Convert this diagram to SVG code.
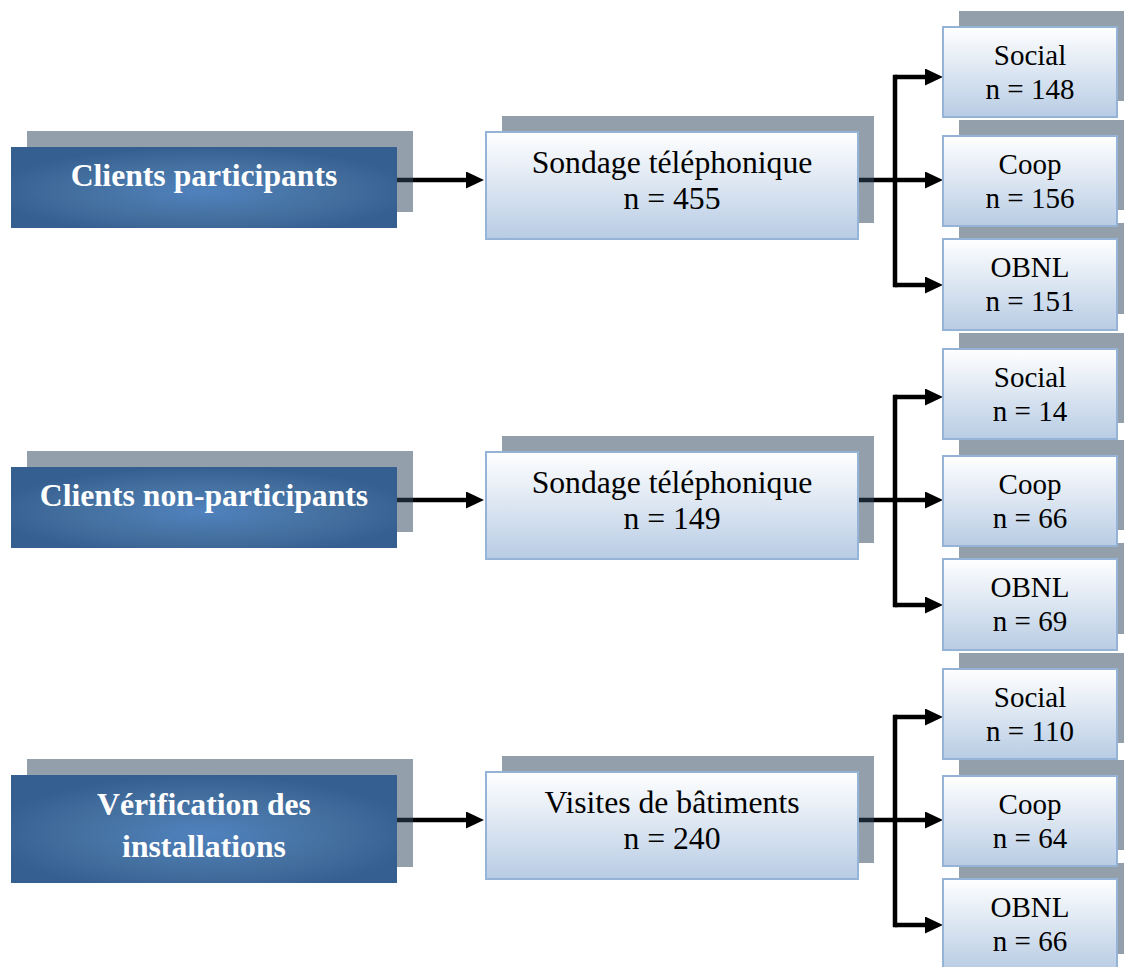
<svg xmlns="http://www.w3.org/2000/svg" width="1124" height="967" viewBox="0 0 1124 967">
<style>
.shadow{fill:#32465f;fill-opacity:0.52}
.dark{fill:url(#gDark)}
.light{fill:url(#gLight);stroke:#95b3d7;stroke-width:2}
.tl{font-family:"Liberation Serif","Times New Roman",serif;font-weight:bold;font-size:31.7px;fill:#ffffff;text-anchor:middle}
.tm{font-family:"Liberation Serif","Times New Roman",serif;font-size:31.7px;fill:#000000;text-anchor:middle}
.tr{font-family:"Liberation Serif","Times New Roman",serif;font-size:29px;fill:#000000;text-anchor:middle}
.ln{fill:none;stroke:#000000;stroke-width:4.5}
.arr{fill:none;stroke:#000000;stroke-width:4.5;marker-end:url(#ah)}
</style>
<defs>
<radialGradient id="gDark" cx="0.5" cy="0.55" r="0.55">
<stop offset="0" stop-color="#5082be"/>
<stop offset="0.6" stop-color="#44709f"/>
<stop offset="1" stop-color="#365f91"/>
</radialGradient>
<linearGradient id="gLight" x1="0" y1="0" x2="0" y2="1">
<stop offset="0" stop-color="#ffffff"/>
<stop offset="1" stop-color="#b8cce4"/>
</linearGradient>
<marker id="ah" markerUnits="userSpaceOnUse" viewBox="0 0 18 17" refX="0" refY="8.5" markerWidth="18" markerHeight="17" orient="auto">
<path d="M0,0 L18,8.5 L0,17 z" fill="#000000"/>
</marker>
</defs>
<rect width="1124" height="967" fill="#ffffff"/>
<g id="connectors">
<path class="arr" d="M397 180 H466"/>
<path class="ln" d="M858 180 H895"/>
<path class="ln" stroke-linecap="square" d="M895 77 V285"/>
<path class="arr" d="M895 77 H925"/>
<path class="arr" d="M895 180 H925"/>
<path class="arr" d="M895 285 H925"/>
<path class="arr" d="M397 500 H466"/>
<path class="ln" d="M858 500 H895"/>
<path class="ln" stroke-linecap="square" d="M895 397 V605"/>
<path class="arr" d="M895 397 H925"/>
<path class="arr" d="M895 500 H925"/>
<path class="arr" d="M895 605 H925"/>
<path class="arr" d="M397 820 H466"/>
<path class="ln" d="M858 820 H895"/>
<path class="ln" stroke-linecap="square" d="M895 717 V925"/>
<path class="arr" d="M895 717 H925"/>
<path class="arr" d="M895 820 H925"/>
<path class="arr" d="M895 925 H925"/>
</g>
<g id="n-clients-participants">
<rect class="shadow" x="27" y="131" width="386" height="81"/>
<rect class="dark" x="11" y="147" width="386" height="81"/>
<text class="tl" x="204" y="186">Clients participants</text>
</g>
<g id="n-sondage-1">
<rect class="shadow" x="502" y="116" width="372" height="107"/>
<rect class="light" x="486" y="132" width="372" height="107"/>
<text class="tm" x="672" y="173">Sondage téléphonique</text>
<text class="tm" x="672" y="209">n = 455</text>
</g>
<g id="n-clients-non-participants">
<rect class="shadow" x="27" y="451" width="386" height="81"/>
<rect class="dark" x="11" y="467" width="386" height="81"/>
<text class="tl" x="204" y="506">Clients non-participants</text>
</g>
<g id="n-sondage-2">
<rect class="shadow" x="502" y="436" width="372" height="107"/>
<rect class="light" x="486" y="452" width="372" height="107"/>
<text class="tm" x="672" y="493">Sondage téléphonique</text>
<text class="tm" x="672" y="529">n = 149</text>
</g>
<g id="n-verification">
<rect class="shadow" x="27" y="759" width="386" height="108"/>
<rect class="dark" x="11" y="775" width="386" height="108"/>
<text class="tl" x="204" y="815">Vérification des</text>
<text class="tl" x="204" y="857">installations</text>
</g>
<g id="n-visites">
<rect class="shadow" x="502" y="756" width="372" height="107"/>
<rect class="light" x="486" y="772" width="372" height="107"/>
<text class="tm" x="672" y="813">Visites de bâtiments</text>
<text class="tm" x="672" y="849">n = 240</text>
</g>
<g id="n-obnl-3">
<rect class="shadow" x="959" y="863" width="174" height="91"/>
<rect class="light" x="943" y="879" width="174" height="91"/>
<text class="tr" x="1030" y="917">OBNL</text>
<text class="tr" x="1030" y="951">n = 66</text>
</g>
<g id="n-coop-3">
<rect class="shadow" x="959" y="760" width="174" height="90"/>
<rect class="light" x="943" y="776" width="174" height="90"/>
<text class="tr" x="1030" y="814">Coop</text>
<text class="tr" x="1030" y="848">n = 64</text>
</g>
<g id="n-social-3">
<rect class="shadow" x="959" y="653" width="174" height="90"/>
<rect class="light" x="943" y="669" width="174" height="90"/>
<text class="tr" x="1030" y="707">Social</text>
<text class="tr" x="1030" y="741">n = 110</text>
</g>
<g id="n-obnl-2">
<rect class="shadow" x="959" y="543" width="174" height="91"/>
<rect class="light" x="943" y="559" width="174" height="91"/>
<text class="tr" x="1030" y="597">OBNL</text>
<text class="tr" x="1030" y="631">n = 69</text>
</g>
<g id="n-coop-2">
<rect class="shadow" x="959" y="440" width="174" height="90"/>
<rect class="light" x="943" y="456" width="174" height="90"/>
<text class="tr" x="1030" y="494">Coop</text>
<text class="tr" x="1030" y="528">n = 66</text>
</g>
<g id="n-social-2">
<rect class="shadow" x="959" y="333" width="174" height="90"/>
<rect class="light" x="943" y="349" width="174" height="90"/>
<text class="tr" x="1030" y="387">Social</text>
<text class="tr" x="1030" y="421">n = 14</text>
</g>
<g id="n-obnl-1">
<rect class="shadow" x="959" y="223" width="174" height="91"/>
<rect class="light" x="943" y="239" width="174" height="91"/>
<text class="tr" x="1030" y="277">OBNL</text>
<text class="tr" x="1030" y="311">n = 151</text>
</g>
<g id="n-coop-1">
<rect class="shadow" x="959" y="120" width="174" height="90"/>
<rect class="light" x="943" y="136" width="174" height="90"/>
<text class="tr" x="1030" y="174">Coop</text>
<text class="tr" x="1030" y="208">n = 156</text>
</g>
<g id="n-social-1">
<rect class="shadow" x="959" y="11" width="174" height="90"/>
<rect class="light" x="943" y="27" width="174" height="90"/>
<text class="tr" x="1030" y="65">Social</text>
<text class="tr" x="1030" y="99">n = 148</text>
</g>
</svg>
